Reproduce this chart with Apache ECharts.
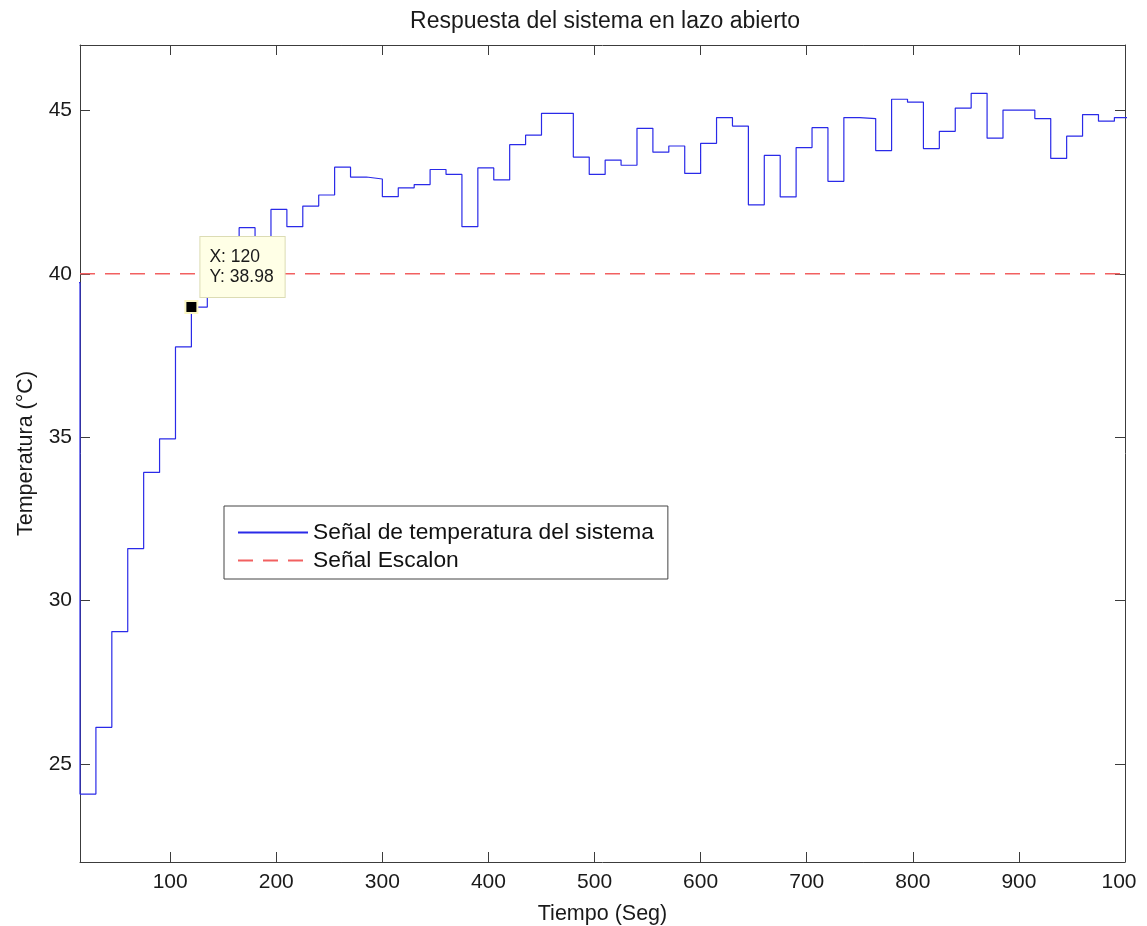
<!DOCTYPE html>
<html>
<head>
<meta charset="utf-8">
<script src="https://cdn.jsdelivr.net/npm/echarts@6/dist/echarts.min.js"></script>
<style>
html,body{margin:0;padding:0;background:#fff;}
#chart{width:1147px;height:926px;}
</style>
</head>
<body>
<div id="chart"></div>
<script>
// ---- data ----
const titleText = 'Respuesta del sistema en lazo abierto';
const xName = 'Tiempo (Seg)';
const yName = 'Temperatura (°C)';
const seriesNames = ['Señal de temperatura del sistema', 'Señal Escalon'];

const tiempo = [0, 15, 30, 45, 60, 75, 90, 105, 120, 135, 150, 165, 180, 195, 210, 225, 240, 255, 270, 285,
  300, 315, 330, 345, 360, 375, 390, 405, 420, 435, 450, 465, 480, 495, 510, 525, 540, 555, 570, 585,
  600, 615, 630, 645, 660, 675, 690, 705, 720, 735, 750, 765, 780, 795, 810, 825, 840, 855, 870, 885,
  900, 915, 930, 945, 960, 975, 990, 1005];
const temperatura = [39.73, 24.08, 26.12, 29.05, 31.59, 33.92, 34.95, 37.76, 38.98, 39.6, 40.5, 41.41, 40.8, 41.97, 41.44, 42.07, 42.41, 43.26, 42.96, 42.90,
  42.36, 42.63, 42.73, 43.19, 43.04, 41.44, 43.24, 42.87, 43.95, 44.24, 44.91, 44.91, 43.57, 43.04, 43.48, 43.32, 44.45, 43.72, 43.91, 43.07,
  43.99, 44.78, 44.52, 42.11, 43.62, 42.35, 43.86, 44.47, 42.83, 44.78, 44.75, 43.77, 45.34, 45.25, 43.83, 44.36, 45.07, 45.52, 44.15, 45.01,
  45.01, 44.75, 43.53, 44.21, 44.87, 44.67, 44.78, 44.78];

const escalonTiempo = [15, 1000];
const escalonValor = [40, 40];

const datatip = [120, 38.98];

const xTicks = [100, 200, 300, 400, 500, 600, 700, 800, 900, 1000];
const yTicks = [25, 30, 35, 40, 45];
const xRange = [15, 1000];
const yRange = [22, 47];

// ---- chart ----
const FONT = '"Liberation Sans", Arial, sans-serif';
const AX = '#3c3c3c';
const chart = echarts.init(document.getElementById('chart'), null, {renderer: 'canvas'});

const tempData = tiempo.map((t, i) => [t, temperatura[i]]);
const escData = escalonTiempo.map((t, i) => [t, escalonValor[i]]);

const baseAxis = {
  axisLine: {show: true, onZero: false, lineStyle: {color: AX, width: 1}},
  splitLine: {show: false}
};

const option = {
  backgroundColor: '#ffffff',
  animation: false,
  title: {
    text: titleText,
    left: 600,
    top: 5,
    textAlign: 'center',
    textStyle: {fontFamily: FONT, fontSize: 23, fontWeight: 'normal', color: '#1a1a1a'}
  },
  grid: {left: 80, right: 22, top: 45, bottom: 64, containLabel: false, outerBoundsMode: 'none'},
  legend: {
    show: true,
    orient: 'vertical',
    left: 224,
    top: 506,
    data: seriesNames,
    itemWidth: 70,
    itemHeight: 22,
    itemGap: 5,
    padding: [15, 14, 7, 13],
    backgroundColor: '#ffffff',
    borderColor: '#444',
    borderWidth: 1,
    borderRadius: 0,
    selectedMode: false,
    itemStyle: {opacity: 0},
    textStyle: {fontFamily: FONT, fontSize: 22.8, color: '#111'}
  },
  xAxis: [
    Object.assign({}, baseAxis, {
      type: 'value', position: 'bottom', min: xRange[0], max: xRange[1],
      name: xName, nameLocation: 'middle', nameGap: 41,
      nameTextStyle: {fontFamily: FONT, fontSize: 21.5, color: '#1a1a1a'},
      axisTick: {show: true, inside: true, length: 10, customValues: xTicks, lineStyle: {color: AX}},
      axisLabel: {
        show: true, margin: 10, customValues: xTicks,
        fontFamily: FONT, fontSize: 21, color: '#1a1a1a',
        formatter: v => v === 1000 ? '{r|100}' : String(v),
        rich: {r: {fontFamily: FONT, fontSize: 21, color: '#1a1a1a', padding: [0, 12, 0, 0]}}
      }
    }),
    Object.assign({}, baseAxis, {
      type: 'value', position: 'top', min: xRange[0], max: xRange[1],
      axisTick: {show: true, inside: true, length: 10, customValues: xTicks, lineStyle: {color: AX}},
      axisLabel: {show: false}
    })
  ],
  yAxis: [
    Object.assign({}, baseAxis, {
      type: 'value', position: 'left', min: yRange[0], max: yRange[1],
      name: yName, nameLocation: 'middle', nameGap: 43,
      nameTextStyle: {fontFamily: FONT, fontSize: 21.5, color: '#1a1a1a'},
      axisTick: {show: true, inside: true, length: 10, customValues: yTicks, lineStyle: {color: AX}},
      axisLabel: {show: true, margin: 8, customValues: yTicks, fontFamily: FONT, fontSize: 21, color: '#1a1a1a'}
    }),
    Object.assign({}, baseAxis, {
      type: 'value', position: 'right', min: yRange[0], max: yRange[1],
      axisTick: {show: true, inside: true, length: 10, customValues: yTicks, lineStyle: {color: AX}},
      axisLabel: {show: false}
    })
  ],
  series: [
    {
      name: seriesNames[0],
      type: 'line',
      step: 'end',
      data: tempData,
      symbol: 'none',
      clip: true,
      lineStyle: {color: '#2a2ae8', width: 1.2},
      itemStyle: {color: '#2a2ae8'},
      z: 2
    },
    {
      name: seriesNames[1],
      type: 'line',
      data: escData,
      symbol: 'none',
      clip: true,
      lineStyle: {color: '#f26060', width: 1.3, type: [15, 10]},
      itemStyle: {color: '#f26060'},
      z: 3
    },
    {
      name: 'datatip',
      type: 'scatter',
      data: [datatip],
      symbol: 'rect',
      symbolSize: 12,
      itemStyle: {color: '#000', borderColor: '#fbf7c4', borderWidth: 2, opacity: 1},
      z: 10,
      zlevel: 1,
      silent: true,
      label: {
        show: true,
        position: [16, -63],
        align: 'left',
        verticalAlign: 'top',
        formatter: p => 'X: ' + p.value[0] + '\nY: ' + p.value[1].toFixed(2),
        fontFamily: FONT,
        fontSize: 17.5,
        lineHeight: 20,
        color: '#1a1a1a',
        backgroundColor: '#ffffe6',
        borderColor: '#dcdcb4',
        borderWidth: 1,
        padding: [10, 11, 10, 9],
        opacity: 1
      }
    }
  ]
};
chart.setOption(option);
</script>
</body>
</html>
